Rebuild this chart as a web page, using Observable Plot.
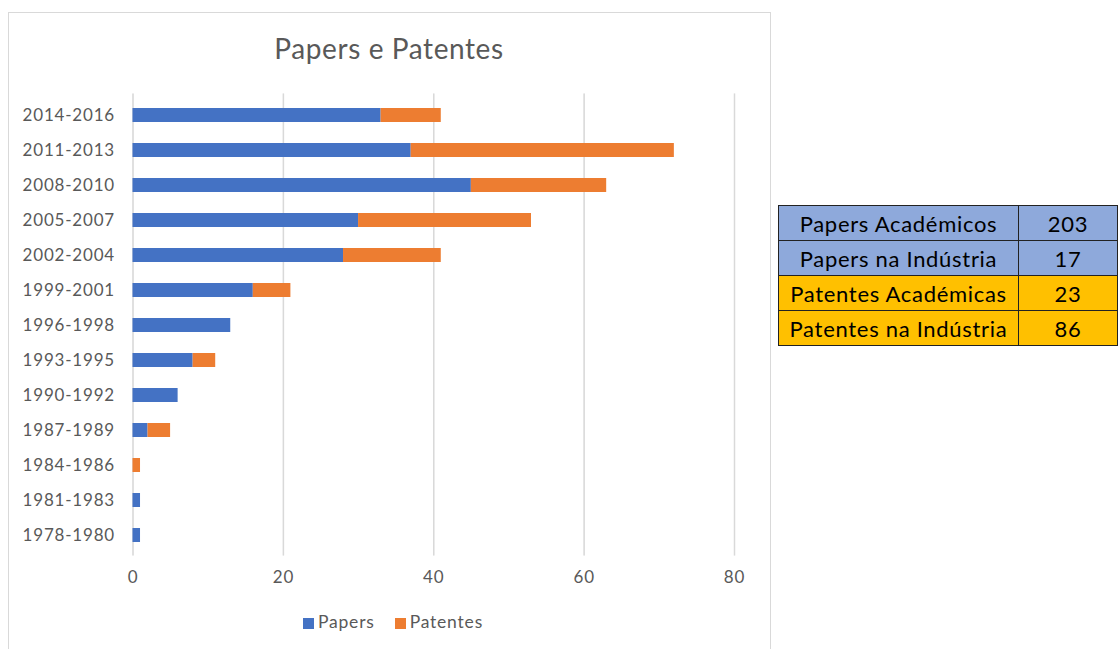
<!DOCTYPE html>
<html>
<head>
<meta charset="utf-8">
<script src="https://cdn.jsdelivr.net/npm/d3@7"></script>
<script src="https://cdn.jsdelivr.net/npm/@observablehq/plot@0.6"></script>
<style>
  body { margin: 0; background: #fff; }
  #wrap { position: relative; width: 1118px; height: 649px; overflow: hidden; background: #fff; font-family: Lato, "Open Sans", sans-serif; }
  #box { position: absolute; left: 8px; top: 12px; width: 763px; height: 700px; border: 1px solid #D9D9D9; box-sizing: border-box; }
  #title { position: absolute; left: 0; width: 778px; top: 31px; text-align: center; font-size: 28px; letter-spacing: 0.6px; color: #595959; }
  #plot { position: absolute; left: 0; top: 0; }
  #legend { position: absolute; left: 0; width: 786px; top: 611px; text-align: center; font-size: 17.5px; letter-spacing: 0.8px; color: #595959; }
  #legend span.sw { display: inline-block; width: 11px; height: 11px; margin-right: 4px; vertical-align: -1px; }
  #legend span.item { margin: 0 10px; }
  #tbl { position: absolute; left: 778px; top: 205px; border-collapse: collapse; font-family: Lato, "Open Sans", sans-serif; font-size: 22px; letter-spacing: 0.7px; color: #000; }
  #tbl td { border: 1.5px solid #222; height: 34px; padding: 0; text-align: center; }
  #tbl td.a { width: 243px; }
  #tbl td.b { width: 100px; }
</style>
</head>
<body>
<div id="wrap">
  <div id="box"></div>
  <div id="title">Papers e Patentes</div>
  <div id="plot"></div>
  <div id="legend"></div>
  <table id="tbl"></table>
</div>
<script>
const periods = ["2014-2016","2011-2013","2008-2010","2005-2007","2002-2004","1999-2001","1996-1998","1993-1995","1990-1992","1987-1989","1984-1986","1981-1983","1978-1980"];
const papers   = [33, 37, 45, 30, 28, 16, 13, 8, 6, 2, 0, 1, 1];
const patentes = [8, 35, 18, 23, 13, 5, 0, 3, 0, 3, 1, 0, 0];
const seriesNames = ["Papers", "Patentes"];
const seriesColors = ["#4472C4", "#ED7D31"];
const xTicks = [0, 20, 40, 60, 80];
const tableLabels = ["Papers Académicos", "Papers na Indústria", "Patentes Académicas", "Patentes na Indústria"];
const tableValues = [203, 17, 23, 86];
const tableColors = ["#8EA9DB", "#8EA9DB", "#FFC000", "#FFC000"];

const data = [];
periods.forEach((p, i) => {
  data.push({period: p, series: "Papers", value: papers[i]});
  data.push({period: p, series: "Patentes", value: patentes[i]});
});

const W = 770, H = 600;
const chart = Plot.plot({
  width: W,
  height: H,
  marginLeft: 132.5,
  marginRight: 36,
  marginTop: 93.5,
  marginBottom: H - 555.5,
  style: {fontFamily: "Lato, 'Open Sans', sans-serif", fontSize: "17px", letterSpacing: "0.8px", color: "#595959", background: "transparent"},
  x: {domain: [0, 80], ticks: xTicks, grid: true, label: null, tickSize: 0, tickPadding: 14.5},
  y: {domain: periods, label: null, tickSize: 0, tickPadding: 18, paddingInner: 0.6, paddingOuter: 0.4},
  color: {domain: seriesNames, range: seriesColors},
  marks: [
    Plot.gridX(xTicks, {stroke: "#D9D9D9", strokeOpacity: 1, strokeWidth: 1.5}),
    Plot.barX(data, Plot.stackX({y: "period", x: "value", fill: "series", order: null}))
  ]
});
document.getElementById("plot").appendChild(chart);

const legend = document.getElementById("legend");
seriesNames.forEach((s, i) => {
  const it = document.createElement("span");
  it.className = "item";
  it.innerHTML = `<span class="sw" style="background:${seriesColors[i]}"></span>${s}`;
  legend.appendChild(it);
});

const tbl = document.getElementById("tbl");
tableLabels.forEach((l, i) => {
  const tr = document.createElement("tr");
  tr.style.background = tableColors[i];
  tr.innerHTML = `<td class="a">${l}</td><td class="b">${tableValues[i]}</td>`;
  tbl.appendChild(tr);
});
</script>
</body>
</html>
